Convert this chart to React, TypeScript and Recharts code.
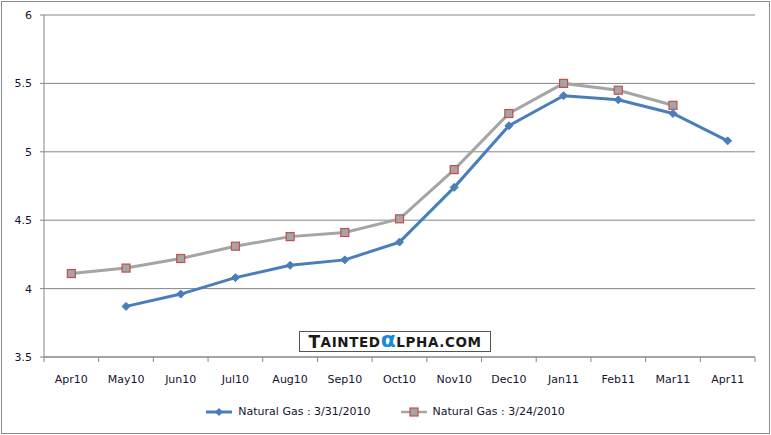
import { CartesianGrid, Legend, Line, LineChart, XAxis, YAxis } from "recharts";

const months = [
  "Apr10", "May10", "Jun10", "Jul10", "Aug10", "Sep10", "Oct10",
  "Nov10", "Dec10", "Jan11", "Feb11", "Mar11", "Apr11",
];
// Natural Gas : 3/31/2010
const gas0331 = [null, 3.87, 3.96, 4.08, 4.17, 4.21, 4.34, 4.74, 5.19, 5.41, 5.38, 5.28, 5.08];
// Natural Gas : 3/24/2010
const gas0324 = [4.11, 4.15, 4.22, 4.31, 4.38, 4.41, 4.51, 4.87, 5.28, 5.5, 5.45, 5.34, null];
const yTicks = [3.5, 4, 4.5, 5, 5.5, 6];

const data = months.map((m, i) => ({ month: m, a: gas0331[i], b: gas0324[i] }));

const BLUE = "#4a7ebb";
const GRAY = "#a5a5a5";
const RED = "#c0504d";
const AXIS = "#868686";
const TEXT = "#14142e";
const FONT = "'DejaVu Sans', sans-serif";

const Diamond = (props: any) => {
  const { cx, cy } = props;
  if (cx == null || cy == null || props.value == null) return null;
  const r = 4;
  return (
    <polygon
      points={`${cx},${cy - r} ${cx + r},${cy} ${cx},${cy + r} ${cx - r},${cy}`}
      fill={BLUE}
      stroke={BLUE}
      strokeWidth={1}
    />
  );
};

const Square = (props: any) => {
  const { cx, cy } = props;
  if (cx == null || cy == null || props.value == null) return null;
  return (
    <rect x={cx - 4} y={cy - 4} width={8} height={8} fill={GRAY} stroke={RED} strokeWidth={1.2} />
  );
};

const XTick = (props: any) => {
  const { x, y, payload, index } = props;
  const half = payload.offset || 27.35;
  return (
    <g>
      <line x1={x - half} x2={x - half} y1={y} y2={y + 5} stroke={AXIS} />
      {index === months.length - 1 && (
        <line x1={x + half} x2={x + half} y1={y} y2={y + 5} stroke={AXIS} />
      )}
      <text x={x} y={y + 26} textAnchor="middle" fontSize={11} fontFamily={FONT} fill={TEXT}>
        {payload.value}
      </text>
    </g>
  );
};

const LegendIcon = ({ color, square }: { color: string; square?: boolean }) => (
  <svg width={26} height={10}>
    <line x1={0} x2={26} y1={5} y2={5} stroke={color} strokeWidth={square ? 2.5 : 3} />
    {square ? (
      <rect x={9} y={1} width={8} height={8} fill={GRAY} stroke={RED} strokeWidth={1.2} />
    ) : (
      <polygon points="13,1 17,5 13,9 9,5" fill={BLUE} />
    )}
  </svg>
);

const LegendContent = () => (
  <div style={{ display: "flex", justifyContent: "center", alignItems: "center", fontFamily: FONT, fontSize: 11, color: TEXT }}>
    <LegendIcon color={BLUE} />
    <span style={{ marginLeft: 6, marginRight: 30 }}>Natural Gas : 3/31/2010</span>
    <LegendIcon color={GRAY} square />
    <span style={{ marginLeft: 6 }}>Natural Gas : 3/24/2010</span>
  </div>
);

const Watermark = () => (
  <div
    style={{
      position: "absolute",
      left: 299,
      top: 331,
      width: 190,
      height: 19,
      border: "1px solid #555",
      background: "#fff",
      display: "flex",
      alignItems: "center",
      justifyContent: "center",
      fontFamily: "'DejaVu Sans', sans-serif",
      fontWeight: "bold",
      color: "#1a1a1a",
      lineHeight: "16px",
      letterSpacing: 0.6,
    }}
  >
    <span style={{ fontSize: 17 }}>T</span>
    <span style={{ fontSize: 13.5 }}>AINTED</span>
    <span style={{ fontSize: 22, color: "#1a8ad4", fontWeight: "bold", position: "relative", top: -2 }}>α</span>
    <span style={{ fontSize: 13.5 }}>LPHA.COM</span>
  </div>
);

export default function App() {
  return (
    <div
      style={{
        position: "absolute",
        left: 0,
        top: 0,
        width: 771,
        height: 435,
        background: "#fff",
      }}
    >
      <div
        style={{
          position: "absolute",
          left: 1,
          top: 1,
          width: 767,
          height: 431,
          border: "1px solid #8a8a8a",
        }}
      />
      <LineChart width={771} height={435} data={data} margin={{ top: 15, right: 16, left: 0, bottom: 48 }}>
        <CartesianGrid vertical={false} stroke={AXIS} />
        <XAxis
          dataKey="month"
          scale="band"
          interval={0}
          height={30}
          axisLine={{ stroke: AXIS }}
          tickLine={false}
          tickSize={0}
          tickMargin={0}
          tick={<XTick />}
        />
        <YAxis
          domain={[3.5, 6]}
          ticks={yTicks}
          width={44}
          axisLine={{ stroke: AXIS }}
          tickLine={{ stroke: AXIS }}
          tickSize={4}
          tickMargin={8}
          tick={{ fontSize: 11, fontFamily: FONT, fill: TEXT }}
        />
        <Legend
          verticalAlign="middle"
          layout="horizontal"
          content={<LegendContent />}
          wrapperStyle={{ top: 405, left: 0, width: 771 }}
        />
        <Line
          dataKey="b"
          stroke={GRAY}
          strokeWidth={3}
          dot={<Square />}
          activeDot={false}
          isAnimationActive={false}
        />
        <Line
          dataKey="a"
          stroke={BLUE}
          strokeWidth={3}
          dot={<Diamond />}
          activeDot={false}
          isAnimationActive={false}
        />
      </LineChart>
      <Watermark />
    </div>
  );
}
